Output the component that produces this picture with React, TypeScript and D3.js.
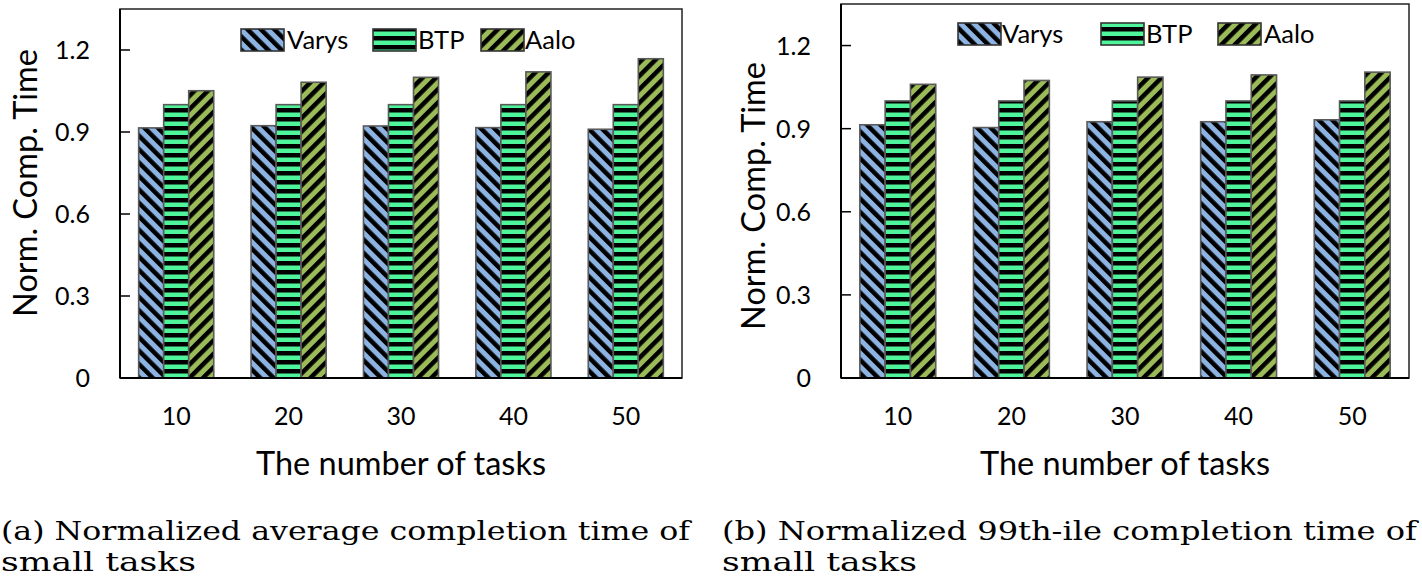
import React from "react";
import * as d3 from "d3";

const categories = ["10", "20", "30", "40", "50"];
const seriesNames = ["Varys", "BTP", "Aalo"];
const leftVarys = [0.915, 0.923, 0.922, 0.916, 0.91];
const leftBTP = [1.0, 1.0, 1.0, 1.0, 1.0];
const leftAalo = [1.051, 1.082, 1.1, 1.12, 1.168];
const rightVarys = [0.914, 0.904, 0.925, 0.925, 0.932];
const rightBTP = [1.0, 1.0, 1.0, 1.0, 1.0];
const rightAalo = [1.06, 1.074, 1.086, 1.094, 1.104];
const yTicks = [0, 0.3, 0.6, 0.9, 1.2];
const yTickLabels = ["0", "0.3", "0.6", "0.9", "1.2"];
const yTitle = "Norm. Comp. Time";
const xTitle = "The number of tasks";
const captionA1 = "(a) Normalized average completion time of";
const captionB1 = "(b) Normalized 99th-ile completion time of";
const caption2 = "small tasks";

const FONT = "Lato, sans-serif";
const SERIF = "DejaVu Serif, serif";
const fills = ["url(#pVarys)", "url(#pBTP)", "url(#pAalo)"];

type PanelProps = {
  left: number; right: number; top: number; bottom: number;
  data: number[][];
  legendX: number[]; legendTextX: number[]; legendY: number;
  yTitleX: number; yTitleY: number;
};

function Panel(p: PanelProps) {
  const y = d3.scaleLinear().domain([0, 1.35]).range([p.bottom, p.top]);
  const x = d3.scaleBand<string>().domain(categories).range([p.left, p.right]).padding(0);
  const bw = x.bandwidth();
  const inner = d3.scaleBand<string>().domain(seriesNames).range([bw * 0.166, bw * 0.834]).padding(0);
  const midX = (p.left + p.right) / 2;
  const ts = { fontFamily: FONT };
  return (
    <g>
      {categories.map((c, i) => (
        <g key={c}>
          {seriesNames.map((s, j) => {
            const v = p.data[j][i];
            const x0 = (x(c) as number) + (inner(s) as number);
            return (
              <rect key={s} x={x0} y={y(v)} width={inner.bandwidth()} height={y(0) - y(v)}
                fill={fills[j]} stroke="#5a5a5a" strokeWidth={1.6} />
            );
          })}
        </g>
      ))}
      <rect x={p.left} y={p.top} width={p.right - p.left} height={p.bottom - p.top}
        fill="none" stroke="#222" strokeWidth={1.5} />
      <line x1={p.left} x2={p.left} y1={p.top} y2={p.bottom} stroke="#000" strokeWidth={2} />
      <line x1={p.left} x2={p.right} y1={p.bottom} y2={p.bottom} stroke="#000" strokeWidth={2.2} />
      {yTicks.map((t, i) => (
        <g key={t}>
          {t > 0 && <line x1={p.left} x2={p.left + 10} y1={y(t)} y2={y(t)} stroke="#000" strokeWidth={1.5} />}
          <text x={p.left - 30} y={y(t)} dy="0.36em" textAnchor="end" style={ts} fontSize={25} fill="#000">
            {yTickLabels[i]}
          </text>
        </g>
      ))}
      {categories.map((c) => (
        <text key={c} x={(x(c) as number) + bw / 2} y={p.bottom + 47} textAnchor="middle"
          style={ts} fontSize={25} fill="#000">{c}</text>
      ))}
      <text x={midX} y={p.bottom + 97} textAnchor="middle" style={ts} fontSize={32.5} fill="#000">{xTitle}</text>
      <text transform={`translate(${p.yTitleX},${p.yTitleY}) rotate(-90)`} textAnchor="middle"
        style={ts} fontSize={32.5} fill="#000">{yTitle}</text>
      {seriesNames.map((s, j) => (
        <g key={s}>
          <rect x={p.legendX[j]} y={p.legendY} width={43} height={22} fill={fills[j]} stroke="#333" strokeWidth={1.6} />
          <text x={p.legendTextX[j]} y={p.legendY + 20} style={ts} fontSize={25.5} fill="#000">{s}</text>
        </g>
      ))}
    </g>
  );
}

export default function App() {
  const cs = { fontFamily: SERIF };
  return (
    <svg width={1422} height={579} style={{ position: "absolute", left: 0, top: 0, background: "#fff" }}>
      <defs>
        <pattern id="pVarys" patternUnits="userSpaceOnUse" width={9.5} height={9.5} patternTransform="rotate(-45)">
          <rect width={9.5} height={9.5} fill="#8db3e2" />
          <rect width={4.5} height={9.5} fill="#000" />
        </pattern>
        <pattern id="pBTP" patternUnits="userSpaceOnUse" width={9} height={9}>
          <rect width={9} height={9} fill="#4ff59a" />
          <rect width={9} height={4.5} fill="#000" />
        </pattern>
        <pattern id="pAalo" patternUnits="userSpaceOnUse" width={9.5} height={9.5} patternTransform="rotate(45)">
          <rect width={9.5} height={9.5} fill="#9bbb59" />
          <rect width={4.5} height={9.5} fill="#000" />
        </pattern>
      </defs>
      <rect width={1422} height={579} fill="#fff" />
      <Panel left={120} right={682} top={9} bottom={378}
        data={[leftVarys, leftBTP, leftAalo]}
        legendX={[241, 373, 481]} legendTextX={[287, 418, 525]} legendY={29} yTitleX={37} yTitleY={183} />
      <Panel left={841} right={1409} top={4} bottom={378}
        data={[rightVarys, rightBTP, rightAalo]}
        legendX={[958, 1101, 1218]} legendTextX={[1002, 1146, 1264]} legendY={23} yTitleX={765} yTitleY={196} />
      <text x={1} y={540} style={cs} fontSize={26} fill="#000" textLength={689} lengthAdjust="spacingAndGlyphs">{captionA1}</text>
      <text x={1} y={571} style={cs} fontSize={26} fill="#000" textLength={195} lengthAdjust="spacingAndGlyphs">{caption2}</text>
      <text x={722} y={540} style={cs} fontSize={26} fill="#000" textLength={695} lengthAdjust="spacingAndGlyphs">{captionB1}</text>
      <text x={722} y={571} style={cs} fontSize={26} fill="#000" textLength={195} lengthAdjust="spacingAndGlyphs">{caption2}</text>
    </svg>
  );
}
